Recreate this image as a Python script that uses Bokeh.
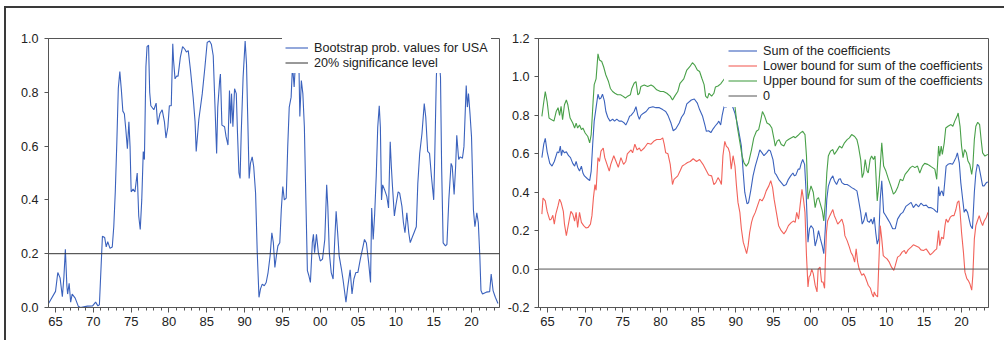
from bokeh.plotting import figure
from bokeh.models import (FixedTicker, Legend, LegendItem, NumeralTickFormatter,
                          Range1d, ColumnDataSource)
from bokeh.layouts import row
from bokeh.embed import file_html
from bokeh.resources import INLINE

# ---------------- data ----------------
usa_year = [1964.1, 1965.0, 1965.3, 1965.6, 1965.9, 1966.1, 1966.3, 1966.5, 1966.6, 1966.8,
            1967.0, 1967.2, 1967.6, 1968.0, 1968.3, 1969.2, 1969.9, 1970.3, 1970.6, 1970.8,
            1971.2, 1971.5, 1971.7, 1971.9, 1972.2, 1972.5, 1972.7, 1972.9, 1973.1, 1973.3,
            1973.5, 1973.7, 1973.9, 1974.1, 1974.3, 1974.5, 1974.7, 1974.85, 1975.0, 1975.25,
            1975.5, 1975.65, 1975.8, 1976.0, 1976.2, 1976.4, 1976.6, 1976.75, 1976.95, 1977.1,
            1977.3, 1977.45, 1977.6, 1978.0, 1978.3, 1978.5, 1978.8, 1979.1, 1979.4, 1979.6,
            1979.85, 1980.05, 1980.3, 1980.5, 1980.6, 1980.8, 1981.0, 1981.2, 1981.5, 1981.8,
            1982.1, 1982.3, 1982.55, 1982.85, 1983.2, 1983.45, 1983.6, 1983.95, 1984.4, 1984.75,
            1985.05, 1985.36, 1985.6, 1985.85, 1986.07, 1986.3, 1986.45, 1986.7, 1986.8, 1987.0,
            1987.35, 1987.55, 1987.8, 1988.0, 1988.15, 1988.27, 1988.45, 1988.67, 1988.9, 1989.06,
            1989.25, 1989.4, 1989.55, 1989.8, 1990.07, 1990.25, 1990.4, 1990.6, 1990.77, 1991.0,
            1991.2, 1991.45, 1991.67, 1991.9, 1992.1, 1992.33, 1992.6, 1992.85, 1993.1, 1993.37,
            1993.6, 1993.8, 1994.0, 1994.2, 1994.4, 1994.65, 1994.85, 1995.05, 1995.25, 1995.5,
            1995.7, 1995.9, 1996.15, 1996.33, 1996.55, 1996.7, 1996.95, 1997.17, 1997.3, 1997.5,
            1997.7, 1997.9, 1998.1, 1998.3, 1998.5, 1998.7, 1998.95, 1999.1, 1999.25, 1999.5,
            1999.75, 2000.0, 2000.3, 2000.6, 2000.85, 2001.0, 2001.2, 2001.45, 2001.7, 2001.9,
            2002.1, 2002.3, 2002.5, 2002.8, 2003.0, 2003.2, 2003.4, 2003.6, 2003.95, 2004.2,
            2004.45, 2004.7, 2004.97, 2005.3, 2005.68, 2005.85, 2006.1, 2006.4, 2006.65, 2006.8,
            2007.0, 2007.2, 2007.4, 2007.6, 2007.8, 2007.95, 2008.1, 2008.25, 2008.5, 2008.8,
            2009.03, 2009.25, 2009.4, 2009.55, 2009.8, 2010.0, 2010.3, 2010.5, 2010.8, 2011.0,
            2011.2, 2011.45, 2011.7, 2011.9, 2012.15, 2012.4, 2012.7, 2012.9, 2013.15, 2013.45,
            2013.75, 2013.95, 2014.2, 2014.45, 2014.7, 2015.0, 2015.1, 2015.35, 2015.5, 2015.7,
            2015.9, 2016.05, 2016.25, 2016.55, 2016.75, 2017.0, 2017.3, 2017.45, 2017.7, 2017.9,
            2018.05, 2018.3, 2018.5, 2018.8, 2019.0, 2019.3, 2019.45, 2019.6, 2019.8, 2020.0,
            2020.25, 2020.45, 2020.7, 2020.9, 2021.1, 2021.25, 2021.45, 2021.95, 2022.4, 2022.6,
            2022.85, 2023.15, 2023.5]
usa_pval = [0.016, 0.06, 0.13, 0.11, 0.04, 0.11, 0.216, 0.08, 0.05, 0.09,
            0.02, 0.05, 0.035, 0.005, 0.0, 0.005, 0.006, 0.02, 0.006, 0.01,
            0.265, 0.26, 0.225, 0.245, 0.22, 0.225, 0.30, 0.43, 0.61, 0.815,
            0.877, 0.81, 0.73, 0.72, 0.66, 0.59, 0.69, 0.60, 0.43, 0.44,
            0.43, 0.465, 0.50, 0.34, 0.29, 0.40, 0.58, 0.55, 0.895, 0.97,
            0.975, 0.80, 0.75, 0.735, 0.76, 0.68, 0.72, 0.735, 0.69, 0.63,
            0.67, 0.75, 0.75, 0.98, 0.92, 0.85, 0.86, 0.86, 0.93, 0.97,
            0.96, 0.95, 0.955, 0.88, 0.78, 0.69, 0.58, 0.70, 0.795, 0.893,
            0.985, 0.991, 0.979, 0.936, 0.758, 0.573, 0.745, 0.844, 0.868, 0.678,
            0.672, 0.635, 0.604, 0.807, 0.684, 0.795, 0.672, 0.813, 0.795, 0.647,
            0.50, 0.48, 0.647, 0.856, 0.991, 0.905, 0.72, 0.48, 0.536, 0.56,
            0.524, 0.425, 0.204, 0.038, 0.069, 0.087, 0.081, 0.093, 0.13, 0.192,
            0.278, 0.241, 0.149, 0.192, 0.229, 0.241, 0.364, 0.45, 0.40, 0.407,
            0.598, 0.745, 0.782, 0.90, 0.82, 0.90, 0.93, 0.92, 0.71, 0.844,
            0.795, 0.672, 0.40, 0.137, 0.118, 0.093, 0.241, 0.272, 0.204, 0.272,
            0.204, 0.173, 0.18, 0.253, 0.456, 0.376, 0.204, 0.13, 0.106, 0.241,
            0.358, 0.278, 0.192, 0.143, 0.106, 0.063, 0.02, 0.069, 0.14, 0.05,
            0.106, 0.13, 0.13, 0.18, 0.23, 0.253, 0.24, 0.167, 0.093, 0.37,
            0.253, 0.35, 0.487, 0.67, 0.75, 0.67, 0.40, 0.456, 0.438, 0.413,
            0.37, 0.616, 0.524, 0.45, 0.34, 0.38, 0.43, 0.425, 0.376, 0.315,
            0.278, 0.352, 0.278, 0.241, 0.26, 0.278, 0.30, 0.462, 0.573, 0.647,
            0.758, 0.708, 0.58, 0.573, 0.487, 0.40, 0.51, 0.856, 0.95, 0.93,
            0.856, 0.52, 0.24, 0.229, 0.235, 0.40, 0.536, 0.524, 0.42, 0.524,
            0.64, 0.55, 0.56, 0.555, 0.598, 0.825, 0.745, 0.795, 0.72, 0.635,
            0.364, 0.30, 0.352, 0.315, 0.19, 0.063, 0.05, 0.057, 0.059, 0.124,
            0.063, 0.038, 0.015]
sig_level = 0.20

sum_year = [1964.25, 1964.5, 1964.7, 1964.95, 1965.3, 1965.6, 1965.9, 1966.3, 1966.5, 1966.7,
            1966.85, 1967.0, 1967.25, 1967.5, 1967.8, 1968.05, 1968.35, 1968.6, 1968.8, 1969.0,
            1969.25, 1969.5, 1969.7, 1969.9, 1970.3, 1970.6, 1970.8, 1971.0, 1971.2, 1971.45,
            1971.7, 1971.9, 1972.1, 1972.3, 1972.55, 1972.75, 1973.0, 1973.3, 1973.65, 1973.9,
            1974.2, 1974.5, 1974.85, 1975.2, 1975.4, 1975.65, 1975.9, 1976.1, 1976.5, 1976.75,
            1977.0, 1977.2, 1977.4, 1977.7, 1978.1, 1978.5, 1979.0, 1979.4, 1979.85, 1980.3,
            1980.7, 1981.0, 1981.4, 1981.7, 1982.05, 1982.5, 1982.8, 1983.15, 1983.5, 1984.1,
            1984.5, 1984.9, 1985.2, 1985.6, 1985.9, 1986.1, 1986.4, 1986.7, 1987.0, 1987.3,
            1987.6, 1987.75, 1988.0, 1988.2, 1988.45, 1988.7, 1989.1, 1989.5, 1989.9, 1990.3,
            1990.75, 1991.0, 1991.2, 1991.5, 1991.7, 1992.0, 1992.3, 1992.6, 1993.0, 1993.2,
            1993.5, 1993.75, 1994.1, 1994.4, 1994.6, 1994.95, 1995.2, 1995.4, 1995.7, 1996.05,
            1996.4, 1996.7, 1997.0, 1997.3, 1997.6, 1997.8, 1998.0, 1998.3, 1998.5, 1998.7,
            1998.9, 1999.15, 1999.35, 1999.6, 1999.8, 2000.0, 2000.3, 2000.55, 2000.8, 2001.0,
            2001.25, 2001.5, 2001.7, 2001.9, 2002.1, 2002.3, 2002.6, 2002.9, 2003.1, 2003.4,
            2003.7, 2003.9, 2004.1, 2004.45, 2004.8, 2005.1, 2005.4, 2005.8, 2006.1, 2006.3,
            2006.6, 2006.8, 2007.0, 2007.3, 2007.5, 2007.75, 2008.0, 2008.2, 2008.4, 2008.6,
            2008.8, 2009.0, 2009.2, 2009.4, 2009.65, 2009.9, 2010.2, 2010.5, 2010.85, 2011.2,
            2011.5, 2011.9, 2012.2, 2012.6, 2013.0, 2013.3, 2013.6, 2013.95, 2014.3, 2014.6,
            2014.95, 2015.3, 2015.6, 2015.9, 2016.3, 2016.6, 2016.8, 2016.95, 2017.1, 2017.25,
            2017.4, 2017.6, 2017.8, 2017.95, 2018.2, 2018.5, 2018.8, 2019.0, 2019.25, 2019.45,
            2019.7, 2019.9, 2020.1, 2020.35, 2020.55, 2020.8, 2021.0, 2021.2, 2021.45, 2021.7,
            2021.9, 2022.1, 2022.3, 2022.55, 2022.8, 2023.0, 2023.3, 2023.5]
sum_val = [0.58, 0.65, 0.68, 0.61, 0.55, 0.536, 0.56, 0.61, 0.605, 0.64,
           0.59, 0.62, 0.605, 0.61, 0.59, 0.58, 0.55, 0.536, 0.56, 0.53,
           0.51, 0.536, 0.50, 0.485, 0.47, 0.46, 0.51, 0.65, 0.77, 0.84,
           0.91, 0.885, 0.89, 0.91, 0.875, 0.82, 0.79, 0.77, 0.78, 0.77,
           0.78, 0.77, 0.77, 0.76, 0.75, 0.77, 0.795, 0.80, 0.82, 0.845,
           0.80, 0.78, 0.80, 0.81, 0.82, 0.84, 0.845, 0.84, 0.84, 0.83,
           0.82, 0.80, 0.76, 0.72, 0.73, 0.76, 0.79, 0.81, 0.86, 0.88,
           0.885, 0.864, 0.83, 0.795, 0.75, 0.717, 0.72, 0.71, 0.73, 0.746,
           0.76, 0.77, 0.75, 0.80, 0.846, 0.843, 0.85, 0.855, 0.81, 0.74,
           0.64, 0.50, 0.40, 0.34, 0.345, 0.41, 0.485, 0.536, 0.59, 0.62,
           0.605, 0.59, 0.605, 0.62, 0.615, 0.57, 0.50, 0.49, 0.467, 0.45,
           0.433, 0.44, 0.467, 0.485, 0.50, 0.485, 0.49, 0.52, 0.52, 0.55,
           0.57, 0.545, 0.40, 0.14, 0.21, 0.226, 0.21, 0.12, 0.157, 0.20,
           0.157, 0.12, 0.08, 0.21, 0.364, 0.43, 0.467, 0.485, 0.46, 0.44,
           0.467, 0.47, 0.45, 0.44, 0.44, 0.433, 0.424, 0.415, 0.407, 0.364,
           0.295, 0.234, 0.25, 0.295, 0.25, 0.243, 0.26, 0.234, 0.27, 0.19,
           0.13, 0.157, 0.364, 0.46, 0.295, 0.28, 0.26, 0.24, 0.21, 0.21,
           0.26, 0.286, 0.295, 0.326, 0.338, 0.347, 0.32, 0.338, 0.324, 0.343,
           0.33, 0.333, 0.32, 0.32, 0.312, 0.30, 0.295, 0.43, 0.38, 0.40,
           0.407, 0.38, 0.467, 0.536, 0.545, 0.55, 0.545, 0.56, 0.58, 0.605,
           0.553, 0.45, 0.38, 0.295, 0.312, 0.295, 0.26, 0.226, 0.21, 0.40,
           0.50, 0.545, 0.536, 0.485, 0.433, 0.433, 0.45, 0.453]

lower_year = [1964.25, 1964.4, 1964.7, 1964.95, 1965.3, 1965.5, 1965.7, 1965.9, 1966.1, 1966.4,
              1966.6, 1966.8, 1967.1, 1967.25, 1967.5, 1967.7, 1967.9, 1968.1, 1968.35, 1968.6,
              1968.8, 1969.0, 1969.25, 1969.5, 1969.8, 1970.1, 1970.4, 1970.7, 1970.9, 1971.1,
              1971.3, 1971.45, 1971.7, 1971.9, 1972.1, 1972.4, 1972.6, 1972.9, 1973.2, 1973.4,
              1973.8, 1974.1, 1974.4, 1974.75, 1975.1, 1975.4, 1975.6, 1976.1, 1976.3, 1976.6,
              1976.9, 1977.2, 1977.4, 1977.85, 1978.3, 1978.75, 1979.1, 1979.5, 1980.0, 1980.3,
              1980.5, 1980.7, 1981.0, 1981.3, 1981.6, 1981.8, 1982.3, 1982.6, 1982.9, 1983.25,
              1983.6, 1983.95, 1984.35, 1984.8, 1985.2, 1985.65, 1986.0, 1986.4, 1986.8, 1987.1,
              1987.35, 1987.65, 1987.9, 1988.1, 1988.3, 1988.55, 1988.75, 1989.0, 1989.2, 1989.4,
              1989.65, 1989.9, 1990.1, 1990.3, 1990.55, 1990.75, 1991.0, 1991.2, 1991.45, 1991.65,
              1991.85, 1992.1, 1992.3, 1992.6, 1992.9, 1993.2, 1993.5, 1993.75, 1994.05, 1994.4,
              1994.65, 1994.9, 1995.1, 1995.4, 1995.7, 1996.05, 1996.4, 1996.7, 1997.0, 1997.4,
              1997.7, 1997.9, 1998.1, 1998.35, 1998.55, 1998.8, 1999.0, 1999.2, 1999.4, 1999.6,
              1999.75, 1999.9, 2000.1, 2000.3, 2000.55, 2000.8, 2000.95, 2001.2, 2001.4, 2001.6,
              2001.8, 2001.9, 2002.05, 2002.2, 2002.5, 2002.9, 2003.1, 2003.3, 2003.55, 2003.9,
              2004.1, 2004.35, 2004.5, 2004.8, 2005.1, 2005.3, 2005.55, 2005.8, 2006.0, 2006.2,
              2006.4, 2006.75, 2007.0, 2007.2, 2007.45, 2007.6, 2007.9, 2008.1, 2008.3, 2008.4,
              2008.6, 2008.85, 2009.0, 2009.2, 2009.4, 2009.6, 2009.8, 2010.1, 2010.4, 2010.7,
              2011.0, 2011.2, 2011.5, 2011.8, 2012.1, 2012.4, 2012.6, 2012.9, 2013.3, 2013.6,
              2013.95, 2014.3, 2014.6, 2014.95, 2015.3, 2015.6, 2015.85, 2016.15, 2016.45, 2016.7,
              2016.95, 2017.1, 2017.35, 2017.6, 2017.8, 2017.95, 2018.2, 2018.5, 2018.75, 2019.0,
              2019.25, 2019.45, 2019.65, 2019.8, 2020.0, 2020.25, 2020.45, 2020.7, 2020.9, 2021.1,
              2021.35, 2021.5, 2021.7, 2021.9, 2022.1, 2022.35, 2022.55, 2022.8, 2023.0, 2023.3,
              2023.5]
lower_val = [0.286, 0.37, 0.355, 0.30, 0.255, 0.26, 0.28, 0.234, 0.286, 0.33,
             0.364, 0.347, 0.30, 0.234, 0.174, 0.217, 0.26, 0.30, 0.286, 0.25,
             0.295, 0.217, 0.295, 0.243, 0.226, 0.214, 0.217, 0.234, 0.278, 0.372,
             0.44, 0.41, 0.58, 0.56, 0.614, 0.63, 0.58, 0.545, 0.51, 0.545,
             0.59, 0.56, 0.53, 0.58, 0.545, 0.56, 0.60, 0.62, 0.605, 0.65,
             0.62, 0.63, 0.614, 0.63, 0.655, 0.65, 0.665, 0.674, 0.674, 0.683,
             0.65, 0.605, 0.60, 0.545, 0.44, 0.467, 0.485, 0.51, 0.536, 0.545,
             0.555, 0.56, 0.574, 0.56, 0.57, 0.545, 0.52, 0.49, 0.485, 0.44,
             0.45, 0.476, 0.46, 0.44, 0.59, 0.665, 0.64, 0.63, 0.605, 0.52,
             0.59, 0.536, 0.433, 0.347, 0.295, 0.21, 0.14, 0.114, 0.08, 0.122,
             0.19, 0.243, 0.27, 0.295, 0.33, 0.364, 0.355, 0.372, 0.407, 0.433,
             0.46, 0.424, 0.364, 0.295, 0.226, 0.20, 0.183, 0.20, 0.226, 0.243,
             0.25, 0.243, 0.295, 0.26, 0.33, 0.415, 0.364, 0.295, 0.07, -0.093,
             -0.04, -0.033, 0.0, -0.024, -0.084, -0.119, 0.0, 0.01, -0.067, -0.067,
             -0.10, 0.036, 0.19, 0.25, 0.278, 0.31, 0.278, 0.26, 0.234, 0.25,
             0.26, 0.226, 0.174, 0.148, 0.114, 0.088, 0.07, 0.036, 0.105, 0.036,
             0.0, -0.033, -0.024, -0.04, -0.067, -0.084, -0.10, -0.128, -0.145, -0.119,
             -0.136, -0.145, 0.019, 0.226, 0.157, 0.07, 0.062, 0.053, 0.036, 0.01,
             -0.007, 0.019, 0.062, 0.07, 0.088, 0.097, 0.08, 0.10, 0.114, 0.126,
             0.12, 0.114, 0.10, 0.097, 0.105, 0.088, 0.074, 0.084, 0.097, 0.105,
             0.20, 0.122, 0.166, 0.157, 0.226, 0.26, 0.243, 0.27, 0.278, 0.278,
             0.31, 0.347, 0.355, 0.30, 0.19, 0.088, -0.016, -0.05, -0.06, -0.076,
             -0.11, -0.033, 0.157, 0.226, 0.25, 0.278, 0.25, 0.226, 0.25, 0.27,
             0.295]

upper_year = [1964.25, 1964.45, 1964.7, 1964.95, 1965.2, 1965.5, 1965.85, 1966.15, 1966.4, 1966.6,
              1966.8, 1967.0, 1967.25, 1967.5, 1967.7, 1968.0, 1968.35, 1968.6, 1968.8, 1969.0,
              1969.25, 1969.5, 1969.7, 1970.0, 1970.35, 1970.6, 1970.8, 1971.05, 1971.2, 1971.45,
              1971.7, 1971.9, 1972.2, 1972.45, 1972.75, 1973.1, 1973.35, 1973.65, 1973.95, 1974.3,
              1974.7, 1975.0, 1975.35, 1975.65, 1976.0, 1976.2, 1976.5, 1976.75, 1977.0, 1977.2,
              1977.4, 1977.85, 1978.3, 1978.75, 1979.1, 1979.5, 1980.0, 1980.4, 1980.85, 1981.3,
              1981.6, 1981.9, 1982.3, 1982.6, 1983.1, 1983.5, 1983.9, 1984.25, 1984.55, 1984.9,
              1985.2, 1985.5, 1985.8, 1986.0, 1986.25, 1986.45, 1986.8, 1987.1, 1987.3, 1987.65,
              1988.0, 1988.3, 1988.7, 1989.1, 1989.5, 1989.9, 1990.2, 1990.55, 1990.85, 1991.1,
              1991.4, 1991.7, 1992.1, 1992.4, 1992.75, 1993.05, 1993.3, 1993.55, 1993.85, 1994.15,
              1994.5, 1994.8, 1995.1, 1995.25, 1995.5, 1995.75, 1996.05, 1996.4, 1996.7, 1997.0,
              1997.4, 1997.7, 1997.9, 1998.25, 1998.6, 1998.9, 1999.2, 1999.4, 1999.6, 1999.8,
              2000.0, 2000.3, 2000.55, 2000.8, 2001.0, 2001.25, 2001.5, 2001.7, 2001.9, 2002.1,
              2002.3, 2002.6, 2002.9, 2003.1, 2003.4, 2003.8, 2004.1, 2004.45, 2004.8, 2005.1,
              2005.4, 2005.8, 2006.1, 2006.3, 2006.6, 2006.8, 2007.0, 2007.2, 2007.45, 2007.6,
              2007.85, 2008.05, 2008.3, 2008.5, 2008.8, 2009.0, 2009.2, 2009.4, 2009.65, 2009.95,
              2010.3, 2010.6, 2010.95, 2011.2, 2011.5, 2011.85, 2012.2, 2012.5, 2012.85, 2013.2,
              2013.5, 2013.8, 2014.15, 2014.45, 2014.8, 2015.1, 2015.5, 2015.85, 2016.15, 2016.45,
              2016.7, 2016.95, 2017.1, 2017.3, 2017.45, 2017.7, 2017.9, 2018.2, 2018.6, 2018.85,
              2019.1, 2019.4, 2019.55, 2019.8, 2020.0, 2020.2, 2020.4, 2020.65, 2020.85, 2021.1,
              2021.35, 2021.5, 2021.7, 2021.9, 2022.15, 2022.4, 2022.6, 2022.8, 2023.1, 2023.5]
upper_val = [0.795, 0.855, 0.924, 0.87, 0.786, 0.778, 0.77, 0.82, 0.84, 0.80,
             0.847, 0.778, 0.855, 0.88, 0.855, 0.786, 0.76, 0.734, 0.76, 0.734,
             0.75, 0.726, 0.734, 0.708, 0.69, 0.657, 0.70, 0.87, 0.96, 0.99,
             1.12, 1.088, 1.08, 1.053, 1.01, 0.976, 0.94, 0.924, 0.915, 0.907,
             0.907, 0.90, 0.89, 0.90, 0.907, 0.94, 0.967, 0.976, 0.907, 0.915,
             0.95, 0.958, 0.95, 0.958, 0.95, 0.933, 0.924, 0.924, 0.915, 0.90,
             0.88, 0.90, 0.924, 0.967, 0.99, 1.036, 1.053, 1.074, 1.062, 1.036,
             1.028, 0.993, 0.96, 0.90, 0.89, 0.915, 0.90, 0.915, 0.947, 0.953,
             0.964, 0.98, 1.0, 0.98, 0.92, 0.846, 0.743, 0.66, 0.588, 0.553,
             0.536, 0.553, 0.622, 0.683, 0.717, 0.726, 0.77, 0.82, 0.795, 0.76,
             0.752, 0.734, 0.674, 0.64, 0.666, 0.674, 0.648, 0.64, 0.666, 0.674,
             0.683, 0.69, 0.683, 0.695, 0.709, 0.717, 0.70, 0.588, 0.364, 0.40,
             0.433, 0.40, 0.32, 0.364, 0.372, 0.338, 0.303, 0.25, 0.347, 0.50,
             0.588, 0.614, 0.622, 0.597, 0.614, 0.64, 0.63, 0.657, 0.674, 0.683,
             0.70, 0.69, 0.674, 0.64, 0.57, 0.476, 0.50, 0.57, 0.51, 0.50,
             0.57, 0.588, 0.57, 0.588, 0.355, 0.433, 0.536, 0.657, 0.536, 0.51,
             0.467, 0.433, 0.39, 0.40, 0.424, 0.467, 0.46, 0.493, 0.51, 0.528,
             0.536, 0.528, 0.536, 0.50, 0.536, 0.55, 0.545, 0.536, 0.528, 0.52,
             0.467, 0.64, 0.588, 0.64, 0.597, 0.657, 0.734, 0.743, 0.752, 0.743,
             0.77, 0.795, 0.812, 0.743, 0.64, 0.58, 0.622, 0.605, 0.562, 0.545,
             0.493, 0.536, 0.674, 0.743, 0.764, 0.752, 0.674, 0.605, 0.588, 0.597]
zero_level = 0.0

# ticks / labels
major_years = [1965, 1970, 1975, 1980, 1985, 1990, 1995, 2000, 2005, 2010, 2015, 2020]
minor_years = list(range(1964, 2024))
left_yticks = [0.0, 0.2, 0.4, 0.6, 0.8, 1.0]
right_yticks = [-0.2, 0.0, 0.2, 0.4, 0.6, 0.8, 1.0, 1.2]

# ---------------- styling ----------------
FONT = "Liberation Sans"
FS = "12.6px"
AX = "#555555"
BLUE = "#3b62bd"
RED = "#f2625a"
GREEN = "#49a049"


def make_fig(width, height, xr, yr, bl, br, bt, bb, yticks, standoff):
    p = figure(width=width, height=height, x_range=xr, y_range=yr,
               output_backend="svg", toolbar_location=None,
               min_border_left=bl, min_border_right=br,
               min_border_top=bt, min_border_bottom=bb)
    p.xgrid.visible = False
    p.ygrid.visible = False
    p.outline_line_color = AX
    p.outline_line_width = 1
    p.background_fill_color = "white"
    p.border_fill_color = "white"

    xa = p.xaxis[0]
    xa.ticker = FixedTicker(ticks=major_years, minor_ticks=minor_years)
    xa.major_label_overrides = {y: f"{y % 100:02d}" for y in major_years}
    xa.major_tick_in = 0
    xa.major_tick_out = 5
    xa.minor_tick_in = 0
    xa.minor_tick_out = 3
    xa.axis_line_color = AX
    xa.major_tick_line_color = AX
    xa.minor_tick_line_color = AX
    xa.major_label_text_font = FONT
    xa.major_label_text_font_size = "13px"
    xa.major_label_text_color = "#222222"
    xa.major_label_standoff = 4

    ya = p.yaxis[0]
    ya.ticker = FixedTicker(ticks=yticks)
    ya.formatter = NumeralTickFormatter(format="0.0")
    ya.major_tick_in = 0
    ya.major_tick_out = 4
    ya.minor_tick_line_color = None
    ya.axis_line_color = AX
    ya.major_tick_line_color = AX
    ya.major_label_text_font = FONT
    ya.major_label_text_font_size = FS
    ya.major_label_text_color = "#222222"
    ya.major_label_standoff = standoff
    return p


def make_legend(items, loc, glyph_w, pad):
    return Legend(items=items, location=loc, padding=pad, margin=0, spacing=0,
                  glyph_width=glyph_w, glyph_height=15, label_height=15,
                  label_standoff=6, label_text_font=FONT,
                  label_text_font_size=FS, label_text_color="#222222",
                  border_line_alpha=0, background_fill_color="white",
                  background_fill_alpha=1.0)


# ---------------- left panel ----------------
lx = Range1d(1964.07, 2023.7)
p1 = make_fig(498, 332, lx, Range1d(0.0, 1.0), 42, 5, 28, 33, left_yticks, 6)
src1 = ColumnDataSource(dict(x=usa_year, y=usa_pval))
r_usa = p1.line("x", "y", source=src1, line_color=BLUE, line_width=1.1)
r_sig = p1.line(x=[lx.start, lx.end], y=[sig_level, sig_level],
                line_color="#333333", line_width=1)
leg1 = make_legend([LegendItem(label="Bootstrap prob. values for USA", renderers=[r_usa]),
                    LegendItem(label="20% significance level", renderers=[r_sig])],
                   (234, 234), 23, 3)
p1.add_layout(leg1)

# ---------------- right panel ----------------
rx = Range1d(1963.8, 2023.58)
p2 = make_fig(500, 332, rx, Range1d(-0.2, 1.2), 33, 16, 30, 31, right_yticks, 5)
r_sum = p2.line(sum_year, sum_val, line_color=BLUE, line_width=1.1)
r_low = p2.line(lower_year, lower_val, line_color=RED, line_width=1.1)
r_up = p2.line(upper_year, upper_val, line_color=GREEN, line_width=1.1)
r_zero = p2.line(x=[rx.start, rx.end], y=[zero_level, zero_level],
                 line_color="#555555", line_width=1)
leg2 = make_legend([LegendItem(label="Sum of the coefficients", renderers=[r_sum]),
                    LegendItem(label="Lower bound for sum of the coefficients", renderers=[r_low]),
                    LegendItem(label="Upper bound for sum of the coefficients", renderers=[r_up]),
                    LegendItem(label="0", renderers=[r_zero])],
                   (186, 200), 29, 4)
p2.add_layout(leg2)

layout = row(p1, p2, styles={"border-top": "2px solid #3a3a3a",
                             "border-left": "2px solid #3a3a3a",
                             "margin-left": "4px", "margin-top": "6px"})

open("out.html", "w").write(file_html(layout, INLINE))
